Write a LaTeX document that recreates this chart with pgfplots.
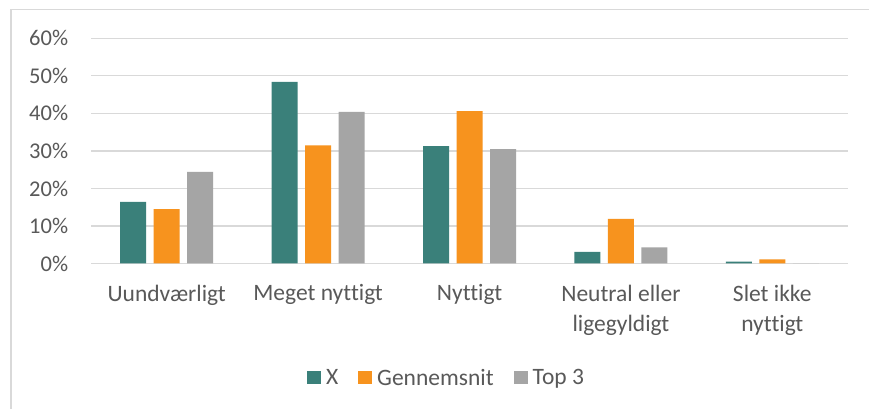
\documentclass[border=0pt]{standalone}
\usepackage{fontspec}
\setmainfont{Carlito}[Ligatures=NoCommon]
\usepackage{pgfplots}
\pgfplotsset{compat=1.18}
\definecolor{cX}{HTML}{3A807A}
\definecolor{cG}{HTML}{F7931E}
\definecolor{cT}{HTML}{A5A5A5}
\definecolor{txt}{HTML}{595959}
\definecolor{grd}{HTML}{D9D9D9}
\begin{document}
\begin{tikzpicture}[x=1pt,y=1pt]
\useasboundingbox (0,0) rectangle (869,409);
\fill[white] (0,0) rectangle (869,409);
\draw[grd, line width=1.2pt] (11,0) -- (11,399.5) -- (869,399.5);
\begin{axis}[
  at={(91pt,145.5pt)}, anchor=south west,
  scale only axis, width=757pt, height=225.2pt,
  ybar=7.5pt, bar width=26pt,
  xmin=-0.5, xmax=4.5, ymin=0, ymax=60,
  xtick={0,1,2,3,4},
  xticklabels={Uundværligt,Meget nyttigt,Nyttigt,Neutral eller\\ligegyldigt,Slet ikke\\nyttigt},
  ytick={0,10,20,30,40,50,60},
  yticklabels={0\%,10\%,20\%,30\%,40\%,50\%,60\%},
  major tick length=0pt,
  axis line style={draw=none},
  ymajorgrids, grid style={grd, line width=1.2pt},
  yticklabel style={font=\fontsize{22.5}{27}\selectfont, text=txt, anchor=east, inner sep=0pt, xshift=-22.7pt},
  xticklabel style={font=\fontsize{23.5}{30}\selectfont, text=txt, anchor=north, inner sep=0pt, yshift=-21pt, align=center},
  legend style={at={(axis description cs:0.4716,-0.5084)}, anchor=center,
    draw=none, fill=none, font=\fontsize{23.5}{28}\selectfont, text=txt,
    legend columns=-1, inner sep=0pt,
    nodes={inner xsep=5pt, inner ysep=0pt},
    /tikz/every even column/.append style={column sep=15pt}},
  legend image code/.code={\fill[#1] (0pt,-6.5pt) rectangle (14pt,7pt);},
]
\addplot[fill=cX, draw=none] coordinates {(0,16.4) (1,48.4) (2,31.3) (3,3.1) (4,0.5)};
\addplot[fill=cG, draw=none] coordinates {(0,14.5) (1,31.5) (2,40.6) (3,11.9) (4,1.1)};
\addplot[fill=cT, draw=none] coordinates {(0,24.4) (1,40.4) (2,30.5) (3,4.3) (4,0)};
\legend{X,Gennemsnit,Top 3}
\end{axis}
\end{tikzpicture}
\end{document}
